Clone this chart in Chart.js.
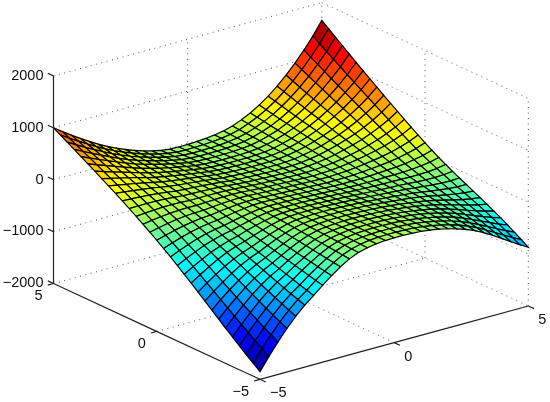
<!DOCTYPE html>
<html><head><meta charset="utf-8"><style>html,body{margin:0;padding:0;background:#fff}canvas{display:block}</style>
<script src="https://cdn.jsdelivr.net/npm/chart.js@4"></script></head><body><canvas id="c" width="550" height="402"></canvas>
<script>
const xTicks=[-5,0,5], yTicks=[-5,0,5], zTicks=[-2000,-1000,0,1000,2000];
const xGrid=[-5,-4.667,-4.333,-4,-3.667,-3.333,-3,-2.667,-2.333,-2,-1.667,-1.333,-1,-0.667,-0.333,0,0.333,0.667,1,1.333,1.667,2,2.333,2.667,3,3.333,3.667,4,4.333,4.667,5];
const yGrid=[5,4.667,4.333,4,3.667,3.333,3,2.667,2.333,2,1.667,1.333,1,0.667,0.333,0,-0.333,-0.667,-1,-1.333,-1.667,-2,-2.333,-2.667,-3,-3.333,-3.667,-4,-4.333,-4.667,-5];
// surface heights: one row per yGrid value, one column per xGrid value
const zRows=[
[1000,880,765,655,550,450,360,280,208,143,86,38,0,-22,-28,-25,-18,-6,14,45,95,165,250,355,480,625,790,975,1180,1405,1660],
[923,814,710,608,512,420,337,263,196,137,84,39,3,-19,-26,-24,-18,-7,10,38,84,150,229,327,444,580,736,910,1103,1316,1558],
[846,748,653,563,474,390,313,246,186,130,82,40,5,-16,-23,-22,-18,-10,6,31,73,134,207,299,408,536,681,844,1026,1226,1455],
[769,681,598,516,438,360,290,229,174,125,80,42,8,-12,-20,-20,-17,-11,3,25,64,119,186,272,374,492,627,780,950,1138,1354],
[691,614,541,470,399,330,266,212,164,119,79,43,11,-9,-16,-18,-17,-11,0,18,54,104,166,246,340,449,575,716,874,1051,1254],
[612,547,485,423,361,299,243,195,152,113,78,44,14,-5,-13,-15,-16,-12,-3,13,44,91,147,219,306,407,522,653,800,965,1154],
[533,479,427,375,322,268,218,177,140,106,76,45,17,-1,-9,-13,-14,-12,-5,8,35,77,129,194,273,366,471,591,728,879,1056],
[453,410,369,327,283,237,193,160,129,100,74,47,20,3,-6,-9,-12,-12,-7,4,28,65,111,171,242,325,422,531,655,796,960],
[372,342,310,278,243,206,168,141,116,94,71,48,23,7,-3,-7,-11,-13,-9,-1,20,52,93,145,210,285,371,470,584,712,864],
[290,271,249,228,202,173,142,122,104,86,68,48,25,10,1,-5,-10,-12,-10,-5,12,40,75,122,180,245,322,411,513,629,768],
[206,198,188,176,159,138,114,101,89,77,64,47,27,12,3,-3,-8,-12,-13,-9,4,28,58,99,149,207,274,352,443,548,674],
[120,123,124,122,116,102,85,79,73,68,59,46,28,14,6,-1,-8,-13,-15,-13,-3,15,41,75,119,168,225,294,374,467,581],
[32,47,59,68,70,65,55,56,57,57,54,44,28,16,7,-1,-8,-14,-17,-19,-11,4,24,53,89,130,178,236,305,387,488],
[-58,-31,-9,11,22,26,23,32,39,45,47,41,27,16,8,1,-7,-14,-19,-23,-18,-8,8,31,60,93,133,180,239,308,398],
[-150,-112,-77,-47,-27,-15,-9,7,21,32,40,37,26,17,9,1,-7,-15,-21,-27,-26,-18,-8,9,31,58,87,125,172,232,309],
[-245,-194,-148,-108,-77,-56,-43,-20,1,19,31,32,25,17,9,2,-7,-16,-24,-31,-32,-28,-23,-11,5,22,43,71,109,157,221],
[-342,-279,-221,-170,-129,-100,-78,-48,-20,5,23,29,23,17,11,3,-6,-14,-23,-32,-36,-36,-34,-28,-19,-8,4,22,50,86,139],
[-443,-367,-298,-235,-184,-146,-117,-77,-42,-11,13,23,21,17,11,5,-3,-14,-22,-32,-39,-42,-44,-44,-40,-37,-34,-24,-7,19,61],
[-547,-459,-377,-303,-242,-193,-156,-109,-65,-27,2,18,19,17,14,7,-1,-10,-20,-31,-39,-46,-52,-55,-58,-62,-66,-66,-59,-43,-12],
[-654,-553,-459,-372,-301,-243,-197,-140,-89,-44,-9,12,17,18,15,10,3,-6,-16,-28,-38,-47,-57,-65,-73,-84,-96,-105,-108,-101,-82],
[-763,-649,-542,-444,-361,-293,-238,-174,-115,-61,-19,6,15,19,18,14,7,-2,-11,-24,-35,-48,-60,-73,-87,-104,-124,-141,-153,-157,-148],
[-874,-746,-627,-517,-423,-345,-282,-208,-141,-80,-31,0,12,19,20,18,12,3,-6,-20,-32,-47,-63,-80,-98,-123,-150,-176,-196,-211,-212],
[-986,-844,-713,-591,-486,-397,-326,-243,-167,-99,-44,-8,9,18,21,20,16,8,-1,-15,-29,-46,-66,-86,-110,-141,-176,-210,-240,-264,-277],
[-1098,-943,-799,-665,-549,-450,-369,-278,-195,-119,-57,-16,5,18,23,23,19,12,3,-11,-27,-46,-70,-95,-124,-161,-204,-246,-285,-319,-342],
[-1210,-1042,-885,-739,-612,-503,-413,-313,-221,-138,-70,-23,1,17,23,25,22,16,7,-8,-25,-47,-74,-103,-138,-181,-231,-282,-331,-374,-408],
[-1322,-1140,-971,-813,-674,-556,-458,-349,-249,-159,-84,-32,-3,15,24,26,24,18,9,-7,-25,-50,-80,-113,-154,-204,-262,-321,-379,-433,-478],
[-1432,-1237,-1055,-886,-737,-609,-502,-385,-276,-178,-97,-40,-8,13,23,26,25,19,10,-6,-27,-54,-86,-125,-171,-227,-294,-362,-429,-493,-549],
[-1540,-1332,-1138,-957,-798,-660,-544,-418,-303,-198,-110,-49,-13,10,22,26,25,20,10,-8,-30,-60,-96,-140,-191,-255,-329,-406,-484,-558,-624],
[-1647,-1427,-1220,-1028,-858,-711,-588,-453,-330,-218,-124,-58,-19,6,20,24,24,19,9,-10,-35,-68,-108,-156,-213,-284,-367,-453,-540,-624,-702],
[-1751,-1518,-1299,-1096,-916,-760,-628,-486,-355,-237,-137,-67,-25,3,17,22,22,16,6,-14,-41,-77,-122,-175,-239,-317,-408,-503,-601,-695,-785],
[-1853,-1608,-1378,-1163,-973,-808,-668,-518,-380,-255,-150,-75,-30,0,15,20,20,14,3,-19,-48,-88,-137,-195,-265,-350,-450,-555,-662,-768,-869]
];
const colourMin=-1853, colourMax=1660;
const P=(x,y,z)=>({x:260+26.83*(x+5)-20.65*(y+5),y:z+(283.3-(379.3-7.33*(x+5)-9.58*(y+5)))/0.0519});
const jet=t=>{t=Math.max(0,Math.min(1,t));const f=v=>Math.round(255*Math.max(0,Math.min(1,v)));
return `rgb(${f(1.5-Math.abs(4*t-3))},${f(1.5-Math.abs(4*t-2))},${f(1.5-Math.abs(4*t-1))})`};
const D=[];
const line=(pts,c,dash,w)=>D.push({data:pts,showLine:true,borderColor:c,borderWidth:w,borderDash:dash,pointRadius:0,clip:false,fillPoly:false});
line([P(-5,5,-2000),P(-5,5,2000)],'#222',[100,0],1.2);
line([P(-5,5,-2000),P(-5,-5,-2000)],'#222',[100,0],1.2);
line([P(-5,-5,-2000),P(5,-5,-2000)],'#222',[100,0],1.2);
yTicks.forEach(y=>line([P(-5,y,-2000),P(-5.216,y,-2000)],'#222',[100,0],1.2));
xTicks.forEach(x=>line([P(x,-5,-2000),P(x,-5.277,-2000)],'#222',[100,0],1.2));
zTicks.forEach(z=>line([P(-5,5,z),P(-5,5.276,z)],'#222',[100,0],1.2));
// nearest cells first: Chart.js paints dataset 0 last
const cells=[];
for(let k=0;k<yGrid.length-1;k++)for(let i=0;i<xGrid.length-1;i++)cells.push([i,k]);
cells.sort((a,b)=>(a[0]-a[1])-(b[0]-b[1]));
cells.forEach(([i,k])=>{
const a=zRows[k][i],b=zRows[k][i+1],c=zRows[k+1][i+1],d=zRows[k+1][i];
const m=(a+b+c+d)/4;
D.push({data:[P(xGrid[i],yGrid[k],a),P(xGrid[i+1],yGrid[k],b),P(xGrid[i+1],yGrid[k+1],c),P(xGrid[i],yGrid[k+1],d),P(xGrid[i],yGrid[k],a)],
showLine:true,borderColor:'#000',borderWidth:1.2,borderDash:[100,0],backgroundColor:jet((m-colourMin)/(colourMax-colourMin)),pointRadius:0,clip:false,fillPoly:true});});
const dot=(a,b)=>line([a,b],'#555',[1,4.5],1);
zTicks.forEach(z=>{dot(P(-5,5,z),P(5,5,z));dot(P(5,5,z),P(5,-5,z));});
dot(P(-5,0,-2000),P(5,0,-2000));dot(P(0,-5,-2000),P(0,5,-2000));
dot(P(0,5,-2000),P(0,5,2000));dot(P(5,0,-2000),P(5,0,2000));dot(P(5,5,-2000),P(5,5,2000));dot(P(5,-5,-2000),P(5,-5,2000));
const fillPoly={id:'fillPoly',beforeDatasetDraw(ch,a){const ds=ch.data.datasets[a.index];if(!ds.fillPoly)return;const pts=a.meta.data,c=ch.ctx;c.save();c.beginPath();pts.forEach((p,k)=>k?c.lineTo(p.x,p.y):c.moveTo(p.x,p.y));c.closePath();c.fillStyle=ds.backgroundColor;c.fill();c.restore();}};
const axisText={id:'axisText',afterDraw(ch){const c=ch.ctx,sx=ch.scales.x,sy=ch.scales.y;c.save();c.font='14.5px "Liberation Sans"';c.fillStyle='#111';c.textBaseline='middle';
const fmt=v=>String(v).replace('-','\u2212');
yTicks.forEach(y=>{const p=P(-5,y,-2000);c.textAlign='right';c.fillText(fmt(y),sx.getPixelForValue(p.x)-11,sy.getPixelForValue(p.y)+12.6);});
xTicks.forEach(x=>{const p=P(x,-5,-2000);c.textAlign='left';c.fillText(fmt(x),sx.getPixelForValue(p.x)+10,sy.getPixelForValue(p.y)+14);});
c.restore();}};
new Chart(document.getElementById('c'),{type:'scatter',data:{datasets:D},plugins:[fillPoly,axisText],options:{responsive:false,animation:false,events:[],layout:{padding:0},
plugins:{legend:{display:false},tooltip:{enabled:false}},
scales:{x:{type:'linear',display:false,min:53.5,max:550},
y:{type:'linear',position:'left',min:-4287,max:3459,afterBuildTicks:s=>{s.ticks=zTicks.map(v=>({value:v}));},afterFit:s=>{s.width=53.5;s.paddingTop=0;s.paddingBottom=0;},grid:{display:false,drawTicks:false},border:{display:false},
ticks:{padding:10,autoSkip:false,color:'#111',font:{family:'"Liberation Sans"',size:14.5},callback:v=>String(v).replace('-','\u2212')}}}}});
</script></body></html>
